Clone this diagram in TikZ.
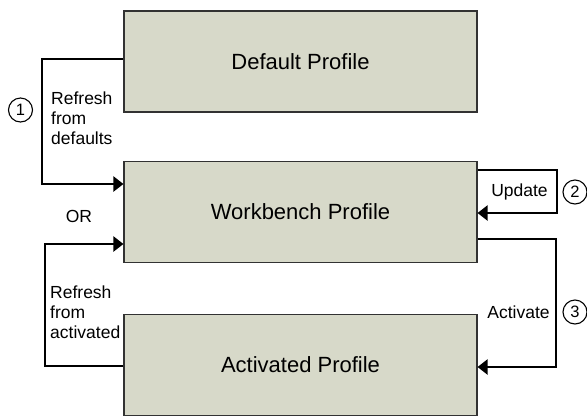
\documentclass[tikz,border=0pt]{standalone}
\usepackage{fontspec}
\setmainfont{Liberation Sans}
\usetikzlibrary{arrows.meta}
\definecolor{boxfill}{RGB}{215,217,201}
\definecolor{boxline}{RGB}{50,50,50}
\begin{document}
\begin{tikzpicture}[x=1pt,y=-1pt,
  profile/.style={draw=boxline,fill=boxfill,line width=1.1pt,minimum width=353pt,minimum height=101pt,inner sep=0pt,font=\fontsize{22}{26}\selectfont},
  conn/.style={draw=black,line width=2.2pt,-{Triangle[length=10pt,width=15pt]}},
  lbl/.style={inner sep=0pt,font=\fontsize{17.5}{20}\selectfont,align=left},
  num/.style={draw=black,circle,line width=1.1pt,minimum size=24pt,inner sep=0pt,font=\fontsize{16.5}{18}\selectfont}]
\path[use as bounding box] (0,0) rectangle (587,416);
\node[profile] (def) at (300.5,61.5) {Default Profile};
\node[profile] (wb) at (300.5,212) {Workbench Profile};
\node[profile] (act) at (300.5,365) {Activated Profile};
% connector 1: refresh from defaults
\coordinate (c1a) at (42,59);
\coordinate (c1b) at (42,184);
\draw[conn] (def.west |- c1a) -- (c1a) -- (c1b) -- (wb.west |- c1b);
% connector: refresh from activated
\coordinate (c4a) at (45,366);
\coordinate (c4b) at (45,244);
\draw[conn] (act.west |- c4a) -- (c4a) -- (c4b) -- (wb.west |- c4b);
% update loop
\coordinate (c2a) at (557,170);
\coordinate (c2b) at (557,213);
\draw[conn] (wb.east |- c2a) -- (c2a) -- (c2b) -- (wb.east |- c2b);
% activate
\coordinate (c3a) at (556,239);
\coordinate (c3b) at (556,367);
\draw[conn] (wb.east |- c3a) -- (c3a) -- (c3b) -- (act.east |- c3b);
% labels
\node[lbl,anchor=north west] (l1) at (51,91.5) {Refresh\\from\\defaults};
\node[lbl,anchor=north west] (l4) at (50,286) {Refresh\\from\\activated};
\node[lbl] (l2) at (519.5,192) {Update};
\node[lbl] (l3) at (518.5,312.5) {Activate};
\node[lbl] (or) at (79,216) {OR};
\node[num] (n1) at (20.5,110) {1};
\node[num] (n2) at (575,192) {2};
\node[num] (n3) at (575,312) {3};
\end{tikzpicture}
\end{document}
